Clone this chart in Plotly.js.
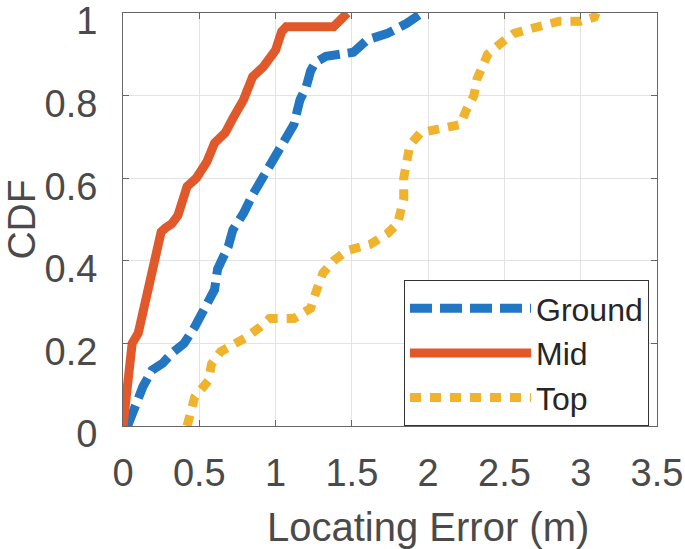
<!DOCTYPE html>
<html>
<head>
<meta charset="utf-8">
<script src="https://cdn.plot.ly/plotly-3.0.1.min.js"></script>
<style>html,body{margin:0;padding:0;background:#fff;}#chart{width:685px;height:549px;}</style>
</head>
<body>
<div id="chart"></div>
<script>
const seriesNames = ["Ground", "Mid", "Top"];

const groundX = [0.03, 0.08, 0.13, 0.19, 0.26, 0.32, 0.4, 0.47, 0.55, 0.6, 0.62, 0.69, 0.72, 0.79, 0.85, 0.91, 0.97, 1.03, 1.12, 1.16, 1.2, 1.23, 1.26, 1.33, 1.4, 1.51, 1.6, 1.73, 1.86, 1.96];
const groundY = [0, 0.046, 0.095, 0.135, 0.152, 0.176, 0.2, 0.24, 0.29, 0.33, 0.38, 0.435, 0.475, 0.515, 0.56, 0.6, 0.64, 0.68, 0.73, 0.79, 0.82, 0.86, 0.88, 0.895, 0.9, 0.905, 0.935, 0.95, 0.975, 1.0];

const midX = [0, 0.035, 0.06, 0.1, 0.14, 0.18, 0.2, 0.25, 0.28, 0.32, 0.36, 0.39, 0.42, 0.48, 0.55, 0.6, 0.67, 0.72, 0.79, 0.85, 0.92, 1.0, 1.04, 1.07, 1.38, 1.43, 1.47];
const midY = [0, 0.1, 0.2, 0.225, 0.29, 0.35, 0.4, 0.47, 0.48, 0.49, 0.51, 0.555, 0.58, 0.6, 0.64, 0.685, 0.71, 0.745, 0.79, 0.846, 0.87, 0.91, 0.955, 0.967, 0.967, 0.985, 1.0];

const topX = [0.42, 0.44, 0.47, 0.56, 0.58, 0.64, 0.72, 0.81, 0.9, 0.96, 1.12, 1.23, 1.27, 1.31, 1.38, 1.47, 1.62, 1.73, 1.8, 1.84, 1.84, 1.86, 1.88, 1.95, 2.1, 2.21, 2.25, 2.3, 2.32, 2.35, 2.39, 2.47, 2.56, 2.65, 2.75, 2.86, 3.0, 3.09, 3.1];
const topY = [0, 0.03, 0.07, 0.11, 0.15, 0.18, 0.195, 0.215, 0.24, 0.26, 0.26, 0.285, 0.33, 0.37, 0.4, 0.425, 0.44, 0.465, 0.49, 0.55, 0.6, 0.63, 0.68, 0.71, 0.72, 0.73, 0.765, 0.8, 0.84, 0.87, 0.9, 0.925, 0.95, 0.96, 0.97, 0.98, 0.98, 0.99, 1.0];

const xTickVals = [0, 0.5, 1, 1.5, 2, 2.5, 3, 3.5];
const xTickText = ["0", "0.5", "1", "1.5", "2", "2.5", "3", "3.5"];
const yTickVals = [0, 0.2, 0.4, 0.6, 0.8, 1];
const yTickText = ["0", "0.2", "0.4", "0.6", "0.8", "1"];
const xTitle = "Locating Error (m)";
const yTitle = "CDF";

const colors = ["#2376C2", "#E1582A", "#EFB32E"];

const traces = [
  {x: groundX, y: groundY, name: seriesNames[0], mode: "lines",
   line: {color: colors[0], width: 9, dash: "22px,8px"}},
  {x: midX, y: midY, name: seriesNames[1], mode: "lines",
   line: {color: colors[1], width: 9, dash: "solid"}},
  {x: topX, y: topY, name: seriesNames[2], mode: "lines",
   line: {color: colors[2], width: 9, dash: "11px,9px"}}
];

const font = "Liberation Sans, Arial, Helvetica, sans-serif";
const axisCommon = {
  showline: true, linecolor: "#666", linewidth: 1, mirror: "ticks",
  ticks: "inside", ticklen: 6, tickcolor: "#666",
  showgrid: true, gridcolor: "#e3e3e3", gridwidth: 1,
  zeroline: false, ticklabeloverflow: "allow",
  tickfont: {family: font, size: 38, color: "#4a4a4a"}
};

const layout = {
  width: 685, height: 549,
  margin: {l: 123, r: 28, t: 13, b: 123},
  paper_bgcolor: "#fff", plot_bgcolor: "#fff",
  font: {family: font},
  xaxis: Object.assign({}, axisCommon, {
    range: [0, 3.5], tickvals: xTickVals, ticktext: xTickText,
    ticklabelstandoff: 13
  }),
  yaxis: Object.assign({}, axisCommon, {
    range: [0, 1], tickvals: yTickVals, ticktext: yTickText,
    ticklabelstandoff: 17, ticklabelshift: 8,
    title: {text: yTitle, font: {family: font, size: 39, color: "#4a4a4a"}, standoff: 10}
  }),
  annotations: [{
    text: xTitle, xref: "paper", yref: "paper", x: 0.571, y: -0.245,
    xanchor: "center", yanchor: "middle", showarrow: false,
    font: {family: font, size: 40, color: "#4a4a4a"}
  }],
  showlegend: true,
  legend: {
    x: 0.5262, xanchor: "left", y: 0, yanchor: "bottom",
    bgcolor: "#fff", bordercolor: "#333", borderwidth: 1,
    font: {family: font, size: 32, color: "#262626"},
    itemwidth: 121, entrywidth: 230, tracegroupgap: 0
  }
};

Plotly.newPlot("chart", traces, layout, {displayModeBar: false, staticPlot: true});
</script>
</body>
</html>
